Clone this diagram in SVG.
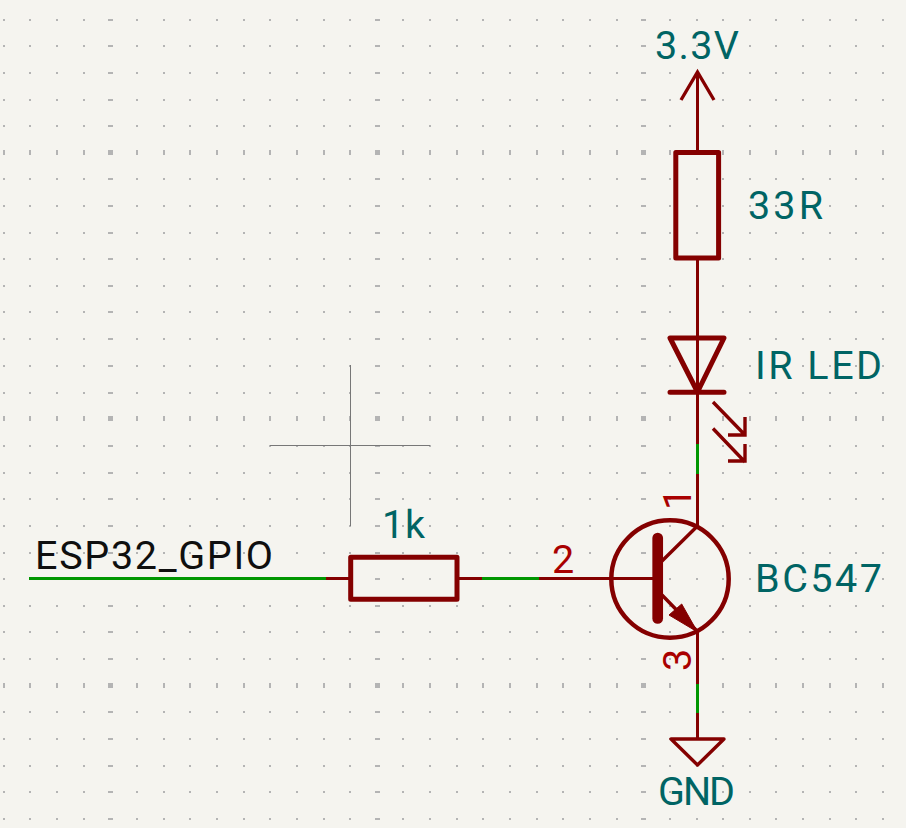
<svg xmlns="http://www.w3.org/2000/svg" xmlns:xlink="http://www.w3.org/1999/xlink" width="906" height="828" viewBox="0 0 906 828">
<style>
.gr{fill:#b4b4b4}
.t{font-family:"Roboto","DejaVu Sans",sans-serif;font-size:39.5px;font-weight:400;fill:#006464}
.l{fill:#0f0f0f}
.p{fill:#a90000}
.s{fill:none;stroke:#840000;stroke-width:5;stroke-linejoin:round;stroke-linecap:round}
.s3{fill:none;stroke:#840000;stroke-width:3.4}
.w{fill:none;stroke:#840000;stroke-width:3}
.g{fill:none;stroke:#009600;stroke-width:3}
.c{fill:none;stroke:#777;stroke-width:1}
</style>
<defs>
<path id="r" class="gr" d="M3 0h2v2h-2zM29 0h2v2h-2zM56 0h2v2h-2zM83 0h2v2h-2zM108 0h5v2h-5zM136 0h2v2h-2zM163 0h2v2h-2zM189 0h2v2h-2zM216 0h2v2h-2zM243 0h2v2h-2zM269 0h2v2h-2zM296 0h2v2h-2zM323 0h2v2h-2zM349 0h2v2h-2zM375 0h5v2h-5zM402 0h2v2h-2zM429 0h2v2h-2zM456 0h2v2h-2zM482 0h2v2h-2zM509 0h2v2h-2zM536 0h2v2h-2zM562 0h2v2h-2zM589 0h2v2h-2zM616 0h2v2h-2zM641 0h5v2h-5zM669 0h2v2h-2zM696 0h2v2h-2zM722 0h2v2h-2zM749 0h2v2h-2zM775 0h2v2h-2zM802 0h2v2h-2zM829 0h2v2h-2zM855 0h2v2h-2zM882 0h2v2h-2z"/>
<path id="m" class="gr" d="M3 0h2v5h-2zM29 0h2v5h-2zM56 0h2v5h-2zM83 0h2v5h-2zM108 0h5v5h-5zM136 0h2v5h-2zM163 0h2v5h-2zM189 0h2v5h-2zM216 0h2v5h-2zM243 0h2v5h-2zM269 0h2v5h-2zM296 0h2v5h-2zM323 0h2v5h-2zM349 0h2v5h-2zM375 0h5v5h-5zM402 0h2v5h-2zM429 0h2v5h-2zM456 0h2v5h-2zM482 0h2v5h-2zM509 0h2v5h-2zM536 0h2v5h-2zM562 0h2v5h-2zM589 0h2v5h-2zM616 0h2v5h-2zM641 0h5v5h-5zM669 0h2v5h-2zM696 0h2v5h-2zM722 0h2v5h-2zM749 0h2v5h-2zM775 0h2v5h-2zM802 0h2v5h-2zM829 0h2v5h-2zM855 0h2v5h-2zM882 0h2v5h-2z"/>
</defs>
<rect width="906" height="828" fill="#f5f4ef"/>
<g id="grid">
<use href="#r" y="19"/><use href="#r" y="45"/><use href="#r" y="72"/><use href="#r" y="99"/><use href="#r" y="125"/><use href="#m" y="150"/><use href="#r" y="178"/><use href="#r" y="205"/><use href="#r" y="232"/><use href="#r" y="258"/><use href="#r" y="285"/><use href="#r" y="311"/><use href="#r" y="338"/><use href="#r" y="365"/><use href="#r" y="392"/><use href="#m" y="416"/><use href="#r" y="445"/><use href="#r" y="472"/><use href="#r" y="498"/><use href="#r" y="525"/><use href="#r" y="552"/><use href="#r" y="578"/><use href="#r" y="605"/><use href="#r" y="631"/><use href="#r" y="658"/><use href="#m" y="683"/><use href="#r" y="711"/><use href="#r" y="738"/><use href="#r" y="765"/><use href="#r" y="791"/><use href="#r" y="818"/>
</g>
<g id="crosshair">
<path class="c" d="M350.5 365V526M270 445.5H430"/>
</g>
<g id="connectors">
<path class="g" d="M29 578.5H326"/>
<path class="w" d="M326 578.5H350"/>
<path class="w" d="M457 578.5H482"/>
<path class="g" d="M482 578.5H539"/>
<path class="w" d="M539 578.5H658"/>
<path class="w" d="M697.5 72V152"/>
<path class="w" d="M697.5 258V338"/>
<path class="w" d="M697.5 338V444"/>
<path class="g" d="M697.5 444V474"/>
<path class="w" d="M697.5 474V526"/>
<path class="w" d="M697.5 632V684"/>
<path class="g" d="M697.5 684V713"/>
<path class="w" d="M697.5 713V739"/>
</g>
<g id="power-3v3">
<path class="s3" d="M681 100L697.5 72L714 100"/>
<text class="t" x="655" y="59" textLength="84">3.3V</text>
</g>
<g id="r-33">
<rect class="s" x="675.8" y="152.6" width="42.8" height="105.5"/>
<text class="t" x="748" y="219" textLength="75">33R</text>
</g>
<g id="led">
<path class="s" d="M670 338H724L697.5 392ZM670 392.3H724"/>
<path class="s3" d="M713 402L745 435M745 417V435H728M713 428.5L745 462M745 444V461H728"/>
<text class="t" x="755" y="379" textLength="127">IR LED</text>
</g>
<g id="r-1k">
<rect class="s" x="350.7" y="557.3" width="106.3" height="42"/>
<text class="t" x="382" y="538" textLength="43">1k</text>
</g>
<g id="label-gpio">
<text class="t l" x="35" y="569" textLength="238">ESP32_GPIO</text>
</g>
<g id="q1">
<circle cx="670" cy="579" r="58.7" fill="none" stroke="#840000" stroke-width="4.5"/>
<path d="M657.7 538V618.5" fill="none" stroke="#840000" stroke-width="10.7" stroke-linecap="round"/>
<path class="s3" d="M661 562L697.5 526M662 595L697 631"/>
<path d="M697.5 632L669 615L681.7 604Z" fill="#840000" stroke="#840000" stroke-width="1"/>
<text class="t" x="755" y="591.5" textLength="127">BC547</text>
<text class="t p" transform="translate(691 510) rotate(-90)">1</text>
<text class="t p" transform="translate(691 671) rotate(-90)">3</text>
<text class="t p" x="552" y="572.5">2</text>
</g>
<g id="gnd">
<path class="s3" stroke-linejoin="round" d="M671 739H724L697.5 765Z"/>
<text class="t" x="658" y="805" textLength="77">GND</text>
</g>
</svg>
